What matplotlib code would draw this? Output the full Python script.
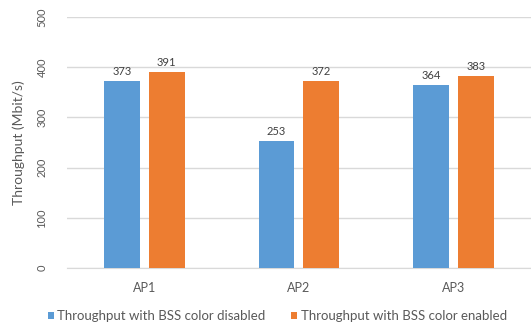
import numpy as np
import matplotlib.pyplot as plt

plt.rcParams['font.family'] = ['Lato', 'DejaVu Sans']

access_points = ['AP1', 'AP2', 'AP3']
bss_disabled = [373, 253, 364]
bss_enabled = [391, 372, 383]
series_names = ['Throughput with BSS color disabled',
                'Throughput with BSS color enabled']

blue = '#5B9BD5'
orange = '#ED7D31'
text_grey = '#595959'

fig = plt.figure(figsize=(5.31, 3.27), dpi=100)
ax = fig.add_axes([0.126, 0.180, 0.874, 0.768])

x = np.arange(len(access_points))
width = 0.232
offset = 0.145

b1 = ax.bar(x - offset, bss_disabled, width, color=blue, label=series_names[0], zorder=3)
b2 = ax.bar(x + offset, bss_enabled, width, color=orange, label=series_names[1], zorder=3)

# value labels above each bar
for bars, vals in ((b1, bss_disabled), (b2, bss_enabled)):
    for bar, v in zip(bars, vals):
        ax.text(bar.get_x() + bar.get_width() / 2, v + 8, str(v),
                ha='center', va='bottom', fontsize=8, color='#404040')

ax.set_xlim(-0.5, 2.5)
ax.set_ylim(0, 500)
ax.set_yticks(range(0, 501, 100))
ax.set_xticks(x)
ax.set_xticklabels(access_points)
ax.yaxis.grid(True, color='#D9D9D9', linewidth=1, zorder=0)
for s in ax.spines.values():
    s.set_visible(False)
ax.spines['bottom'].set_visible(True)
ax.spines['bottom'].set_color('#D9D9D9')
ax.tick_params(axis='both', length=0, colors=text_grey)
ax.tick_params(axis='x', pad=10, labelsize=9)
ax.tick_params(axis='y', pad=14, labelsize=8)
for lbl in ax.get_yticklabels():
    lbl.set_rotation(90)
    lbl.set_va('center')

ax.set_ylabel('Throughput (Mbit/s)', fontsize=10, color=text_grey, labelpad=8)

fig.legend(handles=[b1, b2], loc='center', bbox_to_anchor=(0.522, 0.034),
           ncol=2, frameon=False, fontsize=9.5, labelcolor=text_grey,
           handlelength=0.45, handleheight=0.45, handletextpad=0.25,
           columnspacing=2.0, borderpad=0, borderaxespad=0)

fig.savefig('out.png', dpi=100)
